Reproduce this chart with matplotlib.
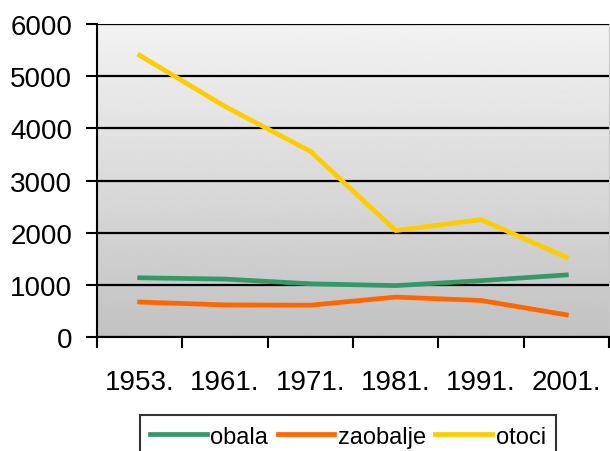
import matplotlib

matplotlib.use("Agg")
import matplotlib.pyplot as plt
import numpy as np

plt.rcParams["font.family"] = ["Liberation Sans", "DejaVu Sans"]

GODINE = ["1953.", "1961.", "1971.", "1981.", "1991.", "2001."]
OBALA = [1135, 1110, 1020, 985, 1080, 1190]
ZAOBALJE = [670, 615, 610, 765, 700, 425]
OTOCI = [5400, 4420, 3560, 2040, 2250, 1530]

BOJE = {"obala": "#339966", "zaobalje": "#FF6600", "otoci": "#FFCC00"}

fig = plt.figure(figsize=(6.1, 4.52), dpi=100)
ax = fig.add_axes([97 / 610, 1 - 338 / 452, 512 / 610, 313 / 452])

# pozadina s prijelazom (svijetlo gore, tamnije dolje)
gradijent = np.linspace(0.95, 0.76, 256).reshape(-1, 1)
ax.imshow(gradijent, cmap="gray", vmin=0, vmax=1, aspect="auto",
          extent=[0, 1, 0, 1], transform=ax.transAxes, zorder=0)

x = np.arange(len(GODINE))
ax.plot(x, OBALA, color=BOJE["obala"], lw=3.4, label="obala", zorder=3)
ax.plot(x, ZAOBALJE, color=BOJE["zaobalje"], lw=3.4, label="zaobalje", zorder=3)
ax.plot(x, OTOCI, color=BOJE["otoci"], lw=3.4, label="otoci", zorder=3)

ax.set_xlim(-0.5, len(GODINE) - 0.5)
ax.set_ylim(0, 6000)
ax.set_yticks(range(0, 6001, 1000))
ax.yaxis.grid(True, color="black", lw=1.6)
ax.set_axisbelow(False)
for linija in ax.get_ygridlines():
    linija.set_zorder(1)

ax.set_xticks(np.arange(-0.5, len(GODINE)), labels=[])
ax.set_xticks(x, labels=GODINE, minor=True)
ax.tick_params(axis="x", which="major", length=8, width=1.5, direction="out")
ax.tick_params(axis="x", which="minor", length=0, labelsize=20, pad=23)
ax.tick_params(axis="y", length=8, width=1.5, labelsize=20, pad=10)

ax.spines["left"].set_linewidth(1.5)
ax.spines["bottom"].set_linewidth(1.5)
ax.spines["top"].set_color("#b0b0b0")
ax.spines["right"].set_color("#c8c8c8")

fig.legend(loc="upper center", bbox_to_anchor=(348 / 610, 1 - 416 / 452), ncol=3,
           fontsize=17, frameon=True, fancybox=False, edgecolor="black",
           handlelength=2.4, handletextpad=0.15, columnspacing=0.4,
           borderpad=0.45, borderaxespad=0)
fig.legends[0].get_frame().set_linewidth(1.5)

fig.savefig("out.png", dpi=100)
